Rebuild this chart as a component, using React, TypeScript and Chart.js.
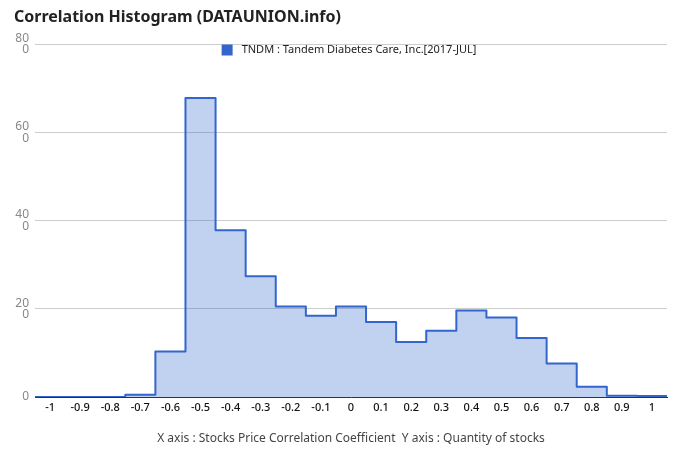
import React, { useEffect, useRef } from "react";
import { Chart, registerables } from "chart.js";

Chart.register(...registerables);

const titleText = "Correlation Histogram (DATAUNION.info)";
const seriesLabel = "TNDM : Tandem Diabetes Care, Inc.[2017-JUL]";
const axisTitle = "X axis : Stocks Price Correlation Coefficient  Y axis : Quantity of stocks";

const binCenters = [-1, -0.9, -0.8, -0.7, -0.6, -0.5, -0.4, -0.3, -0.2, -0.1, 0, 0.1, 0.2, 0.3, 0.4, 0.5, 0.6, 0.7, 0.8, 0.9, 1];
const xTickLabels = ["-1", "-0.9", "-0.8", "-0.7", "-0.6", "-0.5", "-0.4", "-0.3", "-0.2", "-0.1", "0", "0.1", "0.2", "0.3", "0.4", "0.5", "0.6", "0.7", "0.8", "0.9", "1"];
const counts = [0, 0, 0, 0.5, 10.3, 67.8, 37.8, 27.4, 20.5, 18.4, 20.5, 17, 12.5, 15, 19.6, 18, 13.4, 7.6, 2.3, 0.3, 0.2];
const yTickValues = [0, 20, 40, 60, 80];
const yTickLabels: (string | string[])[] = ["0", ["20", "0"], ["40", "0"], ["60", "0"], ["80", "0"]];

const BIN_HALF = 0.05;
const FONT = "'Noto Sans', sans-serif";

export default function App() {
  const ref = useRef<HTMLCanvasElement | null>(null);

  useEffect(() => {
    document.body.style.margin = "0";
    const canvas = ref.current!;
    const points = binCenters.map((c, i) => ({ x: c - BIN_HALF, y: counts[i] }));
    points.push({ x: binCenters[binCenters.length - 1] + BIN_HALF, y: counts[counts.length - 1] });

    const legendPlugin = {
      id: "customLegend",
      afterDraw(chart: any) {
        const ctx = chart.ctx;
        const area = chart.chartArea;
        ctx.save();
        ctx.font = `11px ${FONT}`;
        const tw = ctx.measureText(seriesLabel).width;
        const box = 11;
        const gap = 9;
        const total = box + gap + tw;
        const sx = (area.left + area.right) / 2 - total / 2 - 2;
        const cy = 50;
        ctx.fillStyle = "#3366cc";
        ctx.fillRect(sx, cy - box / 2, box, box);
        ctx.fillStyle = "#222222";
        ctx.textBaseline = "middle";
        ctx.textAlign = "left";
        ctx.fillText(seriesLabel, sx + box + gap, cy);
        ctx.restore();
      },
    };

    const chart = new Chart(canvas, {
      type: "line",
      data: {
        datasets: [
          {
            label: seriesLabel,
            data: points,
            stepped: true,
            borderColor: "#3366cc",
            borderWidth: 2,
            backgroundColor: "rgba(51,102,204,0.3)",
            fill: "origin",
            pointRadius: 0,
            borderJoinStyle: "round",
          },
        ],
      },
      options: {
        responsive: false,
        animation: false,
        layout: { padding: { left: 14, right: 13, top: 0, bottom: 0 } },
        plugins: {
          legend: { display: false },
          tooltip: { enabled: false },
          title: {
            display: true,
            text: titleText,
            align: "start",
            color: "#222222",
            font: { family: FONT, size: 16, weight: "bold" },
            padding: { top: 8, bottom: 17 },
          },
        },
        scales: {
          x: {
            type: "linear",
            min: -1.05,
            max: 1.05,
            afterBuildTicks: (scale: any) => {
              scale.ticks = binCenters.map((v) => ({ value: v }));
            },
            afterFit: (scale: any) => {
              scale.height = 65;
            },
            ticks: {
              autoSkip: false,
              maxRotation: 0,
              padding: 4,
              color: "#111111",
              font: { family: FONT, size: 11, weight: "500" },
              callback: (_v: any, i: number) => xTickLabels[i],
            },
            grid: { display: false, drawTicks: false },
            border: { display: true, color: "#333333", width: 1 },
            title: {
              display: true,
              text: axisTitle,
              color: "#444444",
              font: { family: FONT, size: 12 },
              padding: { top: 10, bottom: 16 },
            },
          },
          y: {
            min: 0,
            max: 80,
            afterBuildTicks: (scale: any) => {
              scale.ticks = yTickValues.map((v) => ({ value: v }));
            },
            afterFit: (scale: any) => {
              scale.width = 21;
            },
            ticks: {
              padding: 6,
              color: "#888888",
              font: { family: FONT, size: 12, lineHeight: 0.95 },
              callback: (_v: any, i: number) => yTickLabels[i],
            },
            grid: { color: "#cccccc", drawTicks: false },
            border: { display: false },
          },
        },
      },
      plugins: [legendPlugin],
    } as any);

    return () => chart.destroy();
  }, []);

  return (
    <div style={{ position: "fixed", left: 0, top: 0, width: 680, height: 462, background: "#fff" }}>
      <canvas ref={ref} width={680} height={462} />
    </div>
  );
}
